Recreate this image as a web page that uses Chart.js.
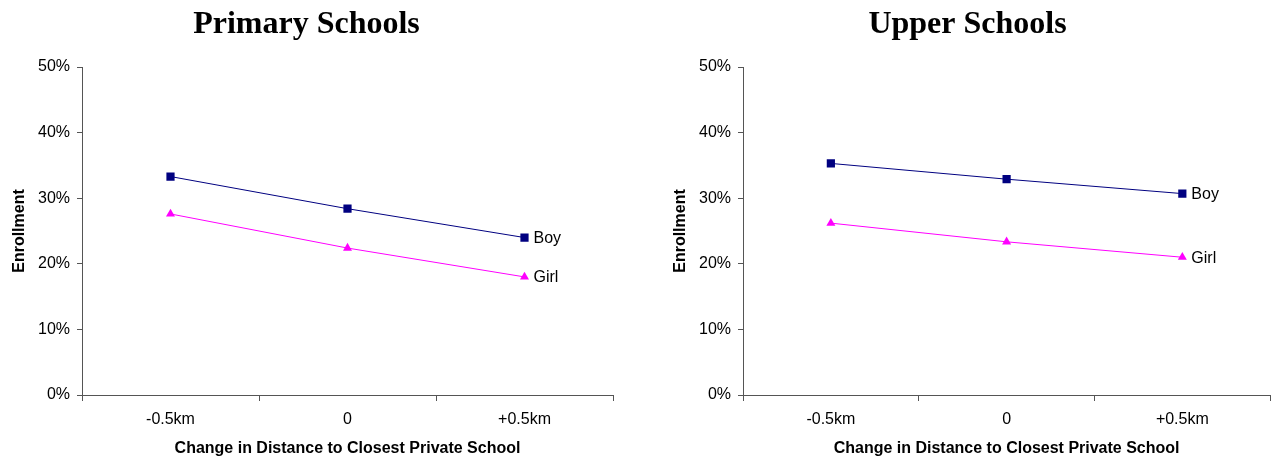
<!DOCTYPE html>
<html>
<head>
<meta charset="utf-8">
<script src="https://cdn.jsdelivr.net/npm/chart.js@4"></script>
<style>
  html, body { margin: 0; padding: 0; background: #fff; width: 1276px; height: 465px; overflow: hidden; }
  .box { position: absolute; top: 0; height: 465px; }
  #b1 { left: 0; width: 620px; }
  #b2 { left: 661px; width: 615px; }
</style>
</head>
<body>
<div class="box" id="b1"><canvas id="c1"></canvas></div>
<div class="box" id="b2"><canvas id="c2"></canvas></div>
<script>
const categories = ['-0.5km', '0', '+0.5km'];
const yTicks = [0, 10, 20, 30, 40, 50];
const primaryBoy = [33.3, 28.4, 24.0];
const primaryGirl = [27.6, 22.4, 18.0];
const upperBoy = [35.3, 32.9, 30.7];
const upperGirl = [26.2, 23.35, 21.0];
const seriesNames = ['Boy', 'Girl'];
const chartTitles = ['Primary Schools', 'Upper Schools'];
const xTitle = 'Change in Distance to Closest Private School';
const yTitle = 'Enrollment';

const SANS = "'Liberation Sans', Arial, sans-serif";
const SERIF = "'Liberation Serif', 'Times New Roman', serif";
const AXIS = '#555555';

const endLabels = {
  id: 'endLabels',
  afterDatasetsDraw(chart) {
    const ctx = chart.ctx;
    ctx.save();
    ctx.font = '16px ' + SANS;
    ctx.fillStyle = '#000';
    ctx.textAlign = 'left';
    ctx.textBaseline = 'middle';
    chart.data.datasets.forEach((ds, i) => {
      const meta = chart.getDatasetMeta(i);
      const pt = meta.data[meta.data.length - 1];
      ctx.fillText(ds.label, pt.x + 9, pt.y + 1);
    });
    ctx.restore();
  }
};

function makeChart(id, title, boy, girl, padRight) {
  return new Chart(document.getElementById(id), {
    type: 'line',
    data: {
      labels: categories,
      datasets: [
        {
          label: seriesNames[0], data: boy,
          borderColor: '#000080', backgroundColor: '#000080',
          borderWidth: 1, pointStyle: 'rect', pointRadius: 5.8,
          pointBorderWidth: 0, pointHoverRadius: 5.8, tension: 0
        },
        {
          label: seriesNames[1], data: girl,
          borderColor: '#FF00FF', backgroundColor: '#FF00FF',
          borderWidth: 1, pointStyle: 'triangle', pointRadius: 5.2,
          pointBorderWidth: 0, pointHoverRadius: 5.2, tension: 0
        }
      ]
    },
    options: {
      responsive: true,
      maintainAspectRatio: false,
      animation: false,
      events: [],
      layout: { padding: { left: 0, right: padRight, top: 0, bottom: 0 } },
      plugins: {
        legend: { display: false },
        tooltip: { enabled: false },
        title: {
          display: true, text: title, color: '#000',
          font: { family: SERIF, size: 32, weight: 'bold', lineHeight: 1.2 },
          padding: { top: 5.5, bottom: 23.1 }
        }
      },
      scales: {
        x: {
          type: 'category',
          offset: true,
          grid: { display: true, offset: true, drawOnChartArea: false, drawTicks: true, tickLength: 6, color: AXIS },
          border: { display: true, color: AXIS, width: 1 },
          ticks: { color: '#000', font: { family: SANS, size: 16 }, padding: 8.5, maxRotation: 0, autoSkip: false },
          title: { display: true, text: xTitle, color: '#000', font: { family: SANS, size: 16, weight: 'bold', lineHeight: 1.2 }, padding: { top: 0, bottom: 6.5 } },
          afterFit(s) { s.height = 70; }
        },
        y: {
          min: 0, max: 50,
          afterBuildTicks(s) { s.ticks = yTicks.map(v => ({ value: v })); },
          grid: { display: true, drawOnChartArea: false, drawTicks: true, tickLength: 5, color: AXIS },
          border: { display: true, color: AXIS, width: 1 },
          ticks: { color: '#000', font: { family: SANS, size: 16 }, padding: 7, callback: v => v + '%' },
          title: { display: true, text: yTitle, color: '#000', font: { family: SANS, size: 16, weight: 'bold', lineHeight: 1.2 }, padding: { top: 9.5, bottom: 0 } },
          afterFit(s) { s.width = 82; }
        }
      }
    },
    plugins: [endLabels]
  });
}

makeChart('c1', chartTitles[0], primaryBoy, primaryGirl, 7);
makeChart('c2', chartTitles[1], upperBoy, upperGirl, 2);
</script>
</body>
</html>
